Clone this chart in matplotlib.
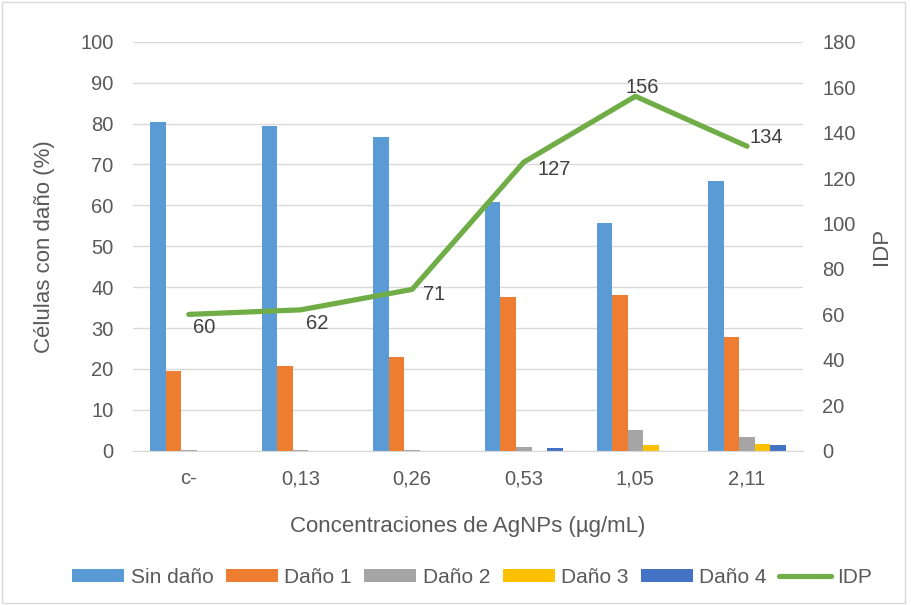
import numpy as np
import matplotlib.pyplot as plt
from matplotlib.patches import Rectangle

plt.rcParams['font.family'] = ['Liberation Sans', 'DejaVu Sans']

concentraciones = ['c-', '0,13', '0,26', '0,53', '1,05', '2,11']
sin_dano = [80.3, 79.4, 76.8, 60.7, 55.7, 66.0]
dano_1 = [19.4, 20.6, 23.0, 37.7, 38.0, 27.7]
dano_2 = [0.2, 0.1, 0.2, 1.0, 5.0, 3.3]
dano_3 = [0.0, 0.0, 0.0, 0.0, 1.3, 1.7]
dano_4 = [0.0, 0.0, 0.0, 0.6, 0.0, 1.3]
idp = [60, 62, 71, 127, 156, 134]

series = [
    ('Sin daño', sin_dano, '#5B9BD5'),
    ('Daño 1', dano_1, '#ED7D31'),
    ('Daño 2', dano_2, '#A5A5A5'),
    ('Daño 3', dano_3, '#FFC000'),
    ('Daño 4', dano_4, '#4472C4'),
]

# where each IDP value label sits relative to its point (points)
label_off = [(3, -9.5), (4, -9.5), (8, -3.5), (10, -5), (-7, 6.5), (1.5, 6)]

txt = '#595959'
fig = plt.figure(figsize=(9.12, 6.05), dpi=100)
fig.patches.append(Rectangle((0.002, 0.004), 0.99, 0.993, transform=fig.transFigure,
                             fill=False, edgecolor='#d9d9d9', lw=1))
ax = fig.add_axes([0.1458, 0.255, 0.7346, 0.676])

x = np.arange(len(concentraciones))
w = 0.139
handles = []
for i, (name, vals, col) in enumerate(series):
    b = ax.bar(x + (i - 2) * w, vals, w, color=col, label=name, zorder=2)
    handles.append(b)

ax.set_ylim(0, 100)
ax.set_xlim(-0.5, 5.5)
ax.set_yticks(range(0, 101, 10))
ax.set_xticks(x)
ax.set_xticklabels(concentraciones)
ax.grid(axis='y', color='#d9d9d9', lw=1, zorder=0)
for s in ['top', 'right', 'left']:
    ax.spines[s].set_visible(False)
ax.spines['bottom'].set_color('#d9d9d9')
ax.tick_params(length=0, labelsize=14.5, colors=txt, pad=14)
ax.tick_params(axis='x', pad=13.5)
ax.set_ylabel('Células con daño (%)', fontsize=16, color=txt, labelpad=18)
ax.set_xlabel('Concentraciones de AgNPs (µg/mL)', fontsize=16, color=txt, labelpad=20)

ax2 = ax.twinx()
line, = ax2.plot(x, idp, color='#70AD47', lw=3.75, solid_capstyle='round',
                 label='IDP', zorder=3)
ax2.set_ylim(0, 180)
ax2.set_yticks(range(0, 181, 20))
for s in ['top', 'right', 'left', 'bottom']:
    ax2.spines[s].set_visible(False)
ax2.tick_params(length=0, labelsize=14.5, colors=txt, pad=14)
ax2.set_ylabel('IDP', fontsize=16, color=txt, labelpad=11)
for xi, v, off in zip(x, idp, label_off):
    ax2.annotate(str(v), (xi, v), xytext=off, textcoords='offset points',
                 ha='left', va='center', fontsize=14.5, color='#404040')

fig.legend(handles + [line], [s[0] for s in series] + ['IDP'], loc='center',
           bbox_to_anchor=(0.518, 0.046), ncol=6, frameon=False, fontsize=15,
           labelcolor=txt, handlelength=2.5, handleheight=0.6,
           handletextpad=0.3, columnspacing=0.6)

fig.savefig('out.png', dpi=100)
